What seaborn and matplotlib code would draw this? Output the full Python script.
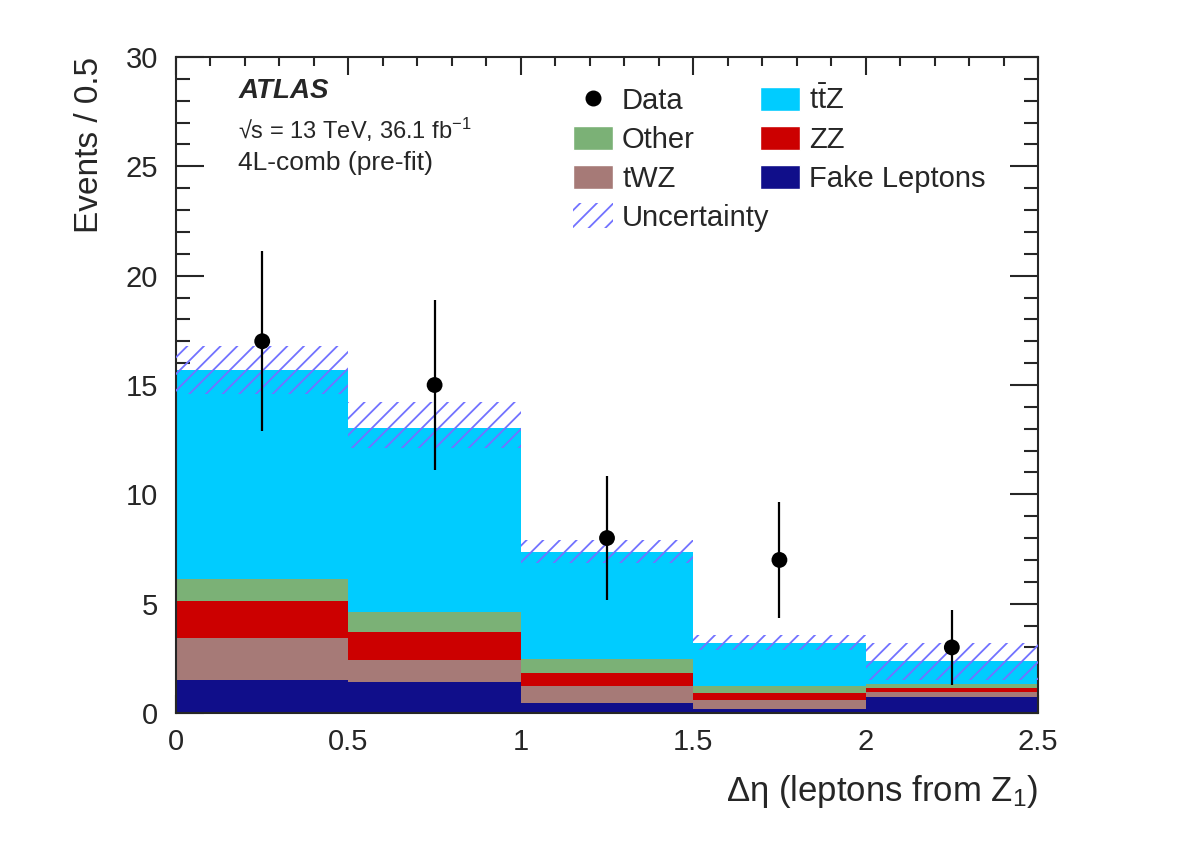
import matplotlib
matplotlib.use("Agg")
import matplotlib.pyplot as plt
from matplotlib.patches import Patch
from matplotlib.lines import Line2D
from matplotlib.ticker import MultipleLocator
import numpy as np
import pandas as pd
import seaborn as sns

# 1. Data
bin_edges = [0.0, 0.5, 1.0, 1.5, 2.0, 2.5]
bin_centers = [0.25, 0.75, 1.25, 1.75, 2.25]

fake = [1.51, 1.40, 0.47, 0.18, 0.75]
twz = [1.90, 1.02, 0.76, 0.41, 0.20]
zz = [1.71, 1.30, 0.61, 0.31, 0.21]
other = [0.99, 0.88, 0.61, 0.33, 0.17]
ttz = [9.57, 8.45, 4.93, 1.99, 1.05]

unc_low = [14.6, 12.1, 6.85, 2.9, 1.5]
unc_high = [16.8, 14.2, 7.9, 3.58, 3.19]

data_y = [17, 15, 8, 7, 3]
data_err = [4.12, 3.87, 2.83, 2.65, 1.73]

processes = ['ttZ', 'Other', 'ZZ', 'tWZ', 'Fake Leptons']
colors = {'ttZ': '#00ccff', 'Other': '#7bb176', 'ZZ': '#cc0000',
          'tWZ': '#a67a77', 'Fake Leptons': '#100e8a'}
hatch_col = '#7272ff'

rows = []
for name, vals in zip(processes, [ttz, other, zz, twz, fake]):
    for c, v in zip(bin_centers, vals):
        rows.append({'x': c, 'w': v, 'process': name})
df = pd.DataFrame(rows)

# 2. Style
sns.set_style("ticks")
plt.rcParams['font.family'] = ['Liberation Sans', 'DejaVu Sans']
plt.rcParams['mathtext.default'] = 'regular'
plt.rcParams['hatch.linewidth'] = 1.3

fig = plt.figure(figsize=(11.82, 8.48), dpi=100)
ax = fig.add_axes([0.1489, 0.1592, 0.7293, 0.7736])

# 3. Stacked histogram
sns.histplot(data=df, x='x', weights='w', hue='process', hue_order=processes,
             bins=bin_edges, multiple='stack', palette=colors, alpha=1,
             linewidth=0, legend=False, ax=ax)

# uncertainty band
xs = bin_edges
ax.fill_between(xs, unc_low + [unc_low[-1]], unc_high + [unc_high[-1]],
                step='post', facecolor='none', edgecolor=hatch_col,
                hatch='//', linewidth=0, zorder=3)

# data points
ax.errorbar(bin_centers, data_y, yerr=data_err, fmt='none', ecolor='black',
            elinewidth=1.6, capsize=0, zorder=4)
sns.scatterplot(x=bin_centers, y=data_y, color='black', s=130, zorder=5,
                edgecolor='none', ax=ax)

# 4. Axes
ax.set_xlim(0, 2.5)
ax.set_ylim(0, 30)
ax.xaxis.set_major_locator(MultipleLocator(0.5))
ax.xaxis.set_minor_locator(MultipleLocator(0.1))
ax.yaxis.set_major_locator(MultipleLocator(5))
ax.yaxis.set_minor_locator(MultipleLocator(1))
ax.set_xticks([0, 0.5, 1, 1.5, 2, 2.5])
ax.set_xticklabels(['0', '0.5', '1', '1.5', '2', '2.5'])
ax.tick_params(axis='both', which='both', direction='in', top=True, right=True,
               width=1.5, labelsize=21)
ax.tick_params(axis='y', which='major', length=20, pad=13)
ax.tick_params(axis='y', which='minor', length=10)
ax.tick_params(axis='x', which='major', length=13, pad=11)
ax.tick_params(axis='x', which='minor', length=6.5)
for s in ax.spines.values():
    s.set_linewidth(1.5)
    s.set_visible(True)

ax.set_xlabel('Δη (leptons from Z$_1$)', fontsize=25, loc='right', labelpad=12)
ax.set_ylabel('Events / 0.5', fontsize=24, loc='top', labelpad=15)

# 5. Labels
ax.text(0.072, 0.968, 'ATLAS', transform=ax.transAxes, fontsize=20,
        fontweight='bold', fontstyle='italic', va='top')
ax.text(0.072, 0.91, '√s = 13 TeV, 36.1 fb$^{-1}$', transform=ax.transAxes,
        fontsize=17, va='top')
ax.text(0.072, 0.857, '4L-comb (pre-fit)', transform=ax.transAxes,
        fontsize=19, va='top')

handles = [
    Line2D([], [], marker='o', color='black', linestyle='none', markersize=10.5),
    Patch(facecolor=colors['Other']),
    Patch(facecolor=colors['tWZ']),
    Patch(facecolor='none', edgecolor=hatch_col, hatch='//', linewidth=0),
    Patch(facecolor=colors['ttZ']),
    Patch(facecolor=colors['ZZ']),
    Patch(facecolor=colors['Fake Leptons']),
]
labels = ['Data', 'Other', 'tWZ', 'Uncertainty', r't$\bar{t}$Z', 'ZZ',
          'Fake Leptons']
ax.legend(handles, labels, ncol=2, loc='upper left',
          bbox_to_anchor=(0.4606, 0.957), frameon=False, fontsize=21,
          borderpad=0, borderaxespad=0,
          handlelength=1.37, handleheight=0.9, handletextpad=0.31,
          columnspacing=-0.34, labelspacing=0.37)

fig.savefig('out.png', dpi=100)
